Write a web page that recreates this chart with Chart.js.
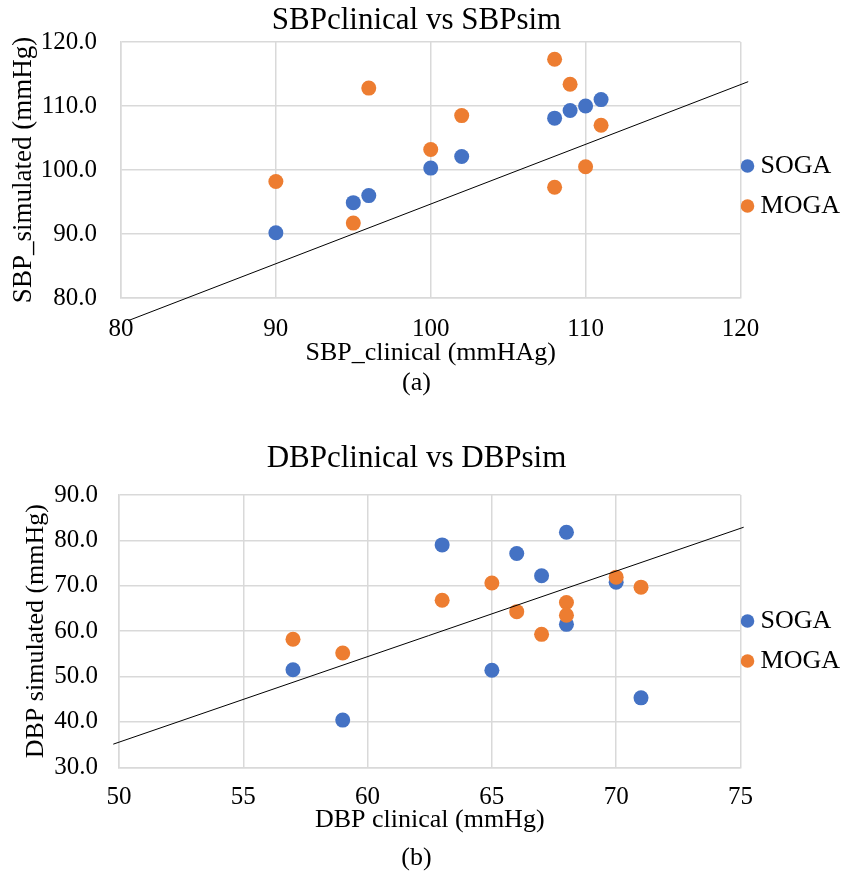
<!DOCTYPE html>
<html>
<head>
<meta charset="utf-8">
<script src="https://cdn.jsdelivr.net/npm/chart.js@4.4.1/dist/chart.umd.min.js"></script>
<style>
  html, body { margin: 0; padding: 0; background: #fff; overflow: hidden; }
  #page { position: relative; width: 841px; height: 874px; overflow: hidden; }
  canvas { position: absolute; left: -17px; }
  .caption { position: absolute; left: 0; width: 833px; text-align: center; font: 26px/26px 'Liberation Serif', 'Times New Roman', serif; color: #000; }
</style>
</head>
<body>
<div id="page">
  <canvas id="sbpChart" width="867" height="379" style="top:0"></canvas>
  <div class="caption" style="top:369px">(a)</div>
  <canvas id="dbpChart" width="867" height="409" style="top:440px"></canvas>
  <div class="caption" style="top:844px">(b)</div>
</div>
<script>
const FONT = "'Liberation Serif', 'Times New Roman', serif";
const SOGA_COLOR = '#4472C4';
const MOGA_COLOR = '#ED7D31';
const GRID = '#d9d9d9';

// (a) systolic
const sbpClinicalSoga = [90, 95, 96, 100, 102, 108, 109, 110, 111];
const sbpSimSoga = [90.2, 94.9, 96.0, 100.3, 102.1, 108.1, 109.3, 110.0, 111.0];
const sbpClinicalMoga = [90, 95, 96, 100, 102, 108, 108, 109, 110, 111];
const sbpSimMoga = [98.2, 91.7, 112.8, 103.2, 108.5, 117.3, 97.3, 113.4, 100.5, 107.0];
const sbpLineX = [80.45, 120.5];
const sbpLineY = [76.45, 113.8];
const sbpXTicks = [80, 90, 100, 110, 120];
const sbpYTicks = [80, 90, 100, 110, 120];

// (b) diastolic
const dbpClinicalSoga = [57, 59, 63, 65, 66, 67, 68, 68, 70, 71];
const dbpSimSoga = [51.5, 40.4, 79.0, 51.4, 77.1, 72.2, 81.8, 61.5, 70.8, 45.3];
const dbpClinicalMoga = [57, 59, 63, 65, 66, 67, 68, 68, 70, 71];
const dbpSimMoga = [58.2, 55.2, 66.8, 70.6, 64.3, 59.3, 66.3, 63.5, 71.9, 69.7];
const dbpLineX = [49.77, 75.13];
const dbpLineY = [35.1, 82.9];
const dbpXTicks = [50, 55, 60, 65, 70, 75];
const dbpYTicks = [30, 40, 50, 60, 70, 80, 90];

function pts(xs, ys) {
    return xs.map((x, i) => ({ x: x, y: ys[i] }));
}

function makeChart(id, p) {
    return new Chart(document.getElementById(id), {
        type: 'scatter',
        data: {
            datasets: [
                {
                    label: 'SOGA',
                    data: pts(p.xSoga, p.ySoga),
                    backgroundColor: SOGA_COLOR,
                    borderColor: SOGA_COLOR,
                    borderWidth: 0,
                    pointRadius: 7.5,
                    order: 2
                },
                {
                    label: 'MOGA',
                    data: pts(p.xMoga, p.yMoga),
                    backgroundColor: MOGA_COLOR,
                    borderColor: MOGA_COLOR,
                    borderWidth: 0,
                    pointRadius: 7.5,
                    order: 1
                },
                {
                    type: 'line',
                    label: 'line',
                    data: pts(p.lineX, p.lineY),
                    borderColor: '#000',
                    borderWidth: 1,
                    pointRadius: 0,
                    fill: false,
                    clip: false,
                    order: 0
                }
            ]
        },
        options: {
            responsive: false,
            animation: false,
            events: [],
            plugins: {
                title: {
                    display: true,
                    text: p.title,
                    color: '#000',
                    font: { family: FONT, size: 31, weight: 'normal' },
                    padding: p.titlePad
                },
                legend: {
                    position: 'right',
                    labels: {
                        usePointStyle: true,
                        pointStyle: 'circle',
                        boxWidth: 0.1,
                        boxHeight: 9.6,
                        padding: 7,
                        color: '#000',
                        font: { family: FONT, size: 26, lineHeight: 33 / 26 },
                        // one-line arrays so the row height follows lineHeight
                        generateLabels: chart => Chart.defaults.plugins.legend.labels.generateLabels(chart)
                            .map(l => Object.assign(l, { text: [l.text] })),
                        filter: item => item.datasetIndex < 2,
                        sort: (a, b) => a.datasetIndex - b.datasetIndex
                    }
                },
                tooltip: { enabled: false }
            },
            scales: {
                x: {
                    type: 'linear',
                    min: p.xTicks[0],
                    max: p.xTicks[p.xTicks.length - 1],
                    afterBuildTicks: s => { s.ticks = p.xTicks.map(v => ({ value: v })); },
                    afterFit: s => { s.height = p.xAxisHeight; },
                    grid: { color: GRID, lineWidth: 1.5, drawTicks: false },
                    border: { color: GRID, width: 1.5 },
                    ticks: { color: '#000', font: { family: FONT, size: 25 }, padding: p.xTickPad, maxRotation: 0 },
                    title: {
                        display: true,
                        text: p.xTitle,
                        color: '#000',
                        font: { family: FONT, size: 26 },
                        padding: { top: 0, bottom: p.xTitlePad }
                    }
                },
                y: {
                    type: 'linear',
                    min: p.yTicks[0],
                    max: p.yTicks[p.yTicks.length - 1],
                    afterBuildTicks: s => { s.ticks = p.yTicks.map(v => ({ value: v })); },
                    afterFit: s => { s.width = p.yAxisWidth; },
                    grid: { color: GRID, lineWidth: 1.5, drawTicks: false },
                    border: { color: GRID, width: 1.5 },
                    ticks: {
                        color: '#000',
                        font: { family: FONT, size: 25 },
                        padding: p.yTickPad,
                        callback: v => Number(v).toFixed(1)
                    },
                    title: {
                        display: true,
                        text: p.yTitle,
                        color: '#000',
                        font: { family: FONT, size: p.yTitleSize },
                        padding: { top: p.yTitlePad, bottom: 0 }
                    }
                }
            }
        }
    });
}

makeChart('sbpChart', {
    title: 'SBPclinical vs SBPsim',
    titlePad: { top: 2.6, bottom: 2.2 },
    xTitle: 'SBP_clinical (mmHAg)',
    yTitle: 'SBP_simulated (mmHg)',
    xSoga: sbpClinicalSoga, ySoga: sbpSimSoga,
    xMoga: sbpClinicalMoga, yMoga: sbpSimMoga,
    lineX: sbpLineX, lineY: sbpLineY,
    xTicks: sbpXTicks, yTicks: sbpYTicks,
    yTitleSize: 27, yTitlePad: 25, yAxisWidth: 138, yTickPad: 24,
    xAxisHeight: 81, xTickPad: 16, xTitlePad: 10.5
});

makeChart('dbpChart', {
    title: 'DBPclinical vs DBPsim',
    titlePad: { top: 0, bottom: 17.8 },
    xTitle: 'DBP clinical (mmHg)',
    yTitle: 'DBP simulated (mmHg)',
    xSoga: dbpClinicalSoga, ySoga: dbpSimSoga,
    xMoga: dbpClinicalMoga, yMoga: dbpSimMoga,
    lineX: dbpLineX, lineY: dbpLineY,
    xTicks: dbpXTicks, yTicks: dbpYTicks,
    yTitleSize: 26, yTitlePad: 37.6, yAxisWidth: 136, yTickPad: 21,
    xAxisHeight: 81.7, xTickPad: 15, xTitlePad: 12.9
});
</script>
</body>
</html>
